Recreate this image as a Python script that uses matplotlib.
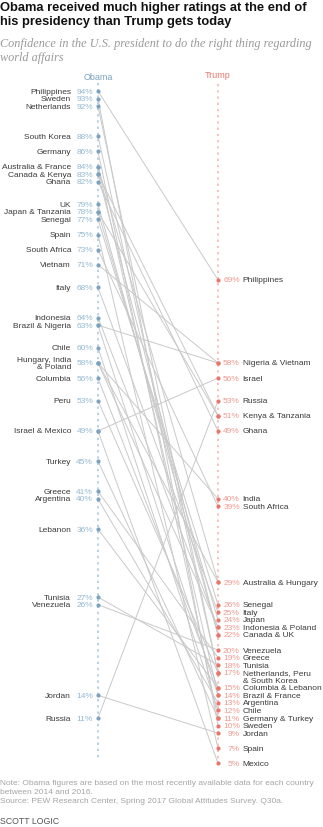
import matplotlib
matplotlib.use('Agg')
import matplotlib.pyplot as plt

countries = ["Philippines", "Sweden", "Netherlands", "South Korea", "Germany",
             "Australia", "France", "Canada", "Kenya", "Ghana", "UK", "Japan",
             "Tanzania", "Senegal", "Spain", "South Africa", "Vietnam", "Italy",
             "Indonesia", "Brazil", "Nigeria", "Chile", "Hungary", "India",
             "Poland", "Columbia", "Peru", "Israel", "Mexico", "Turkey",
             "Greece", "Argentina", "Lebanon", "Tunisia", "Venezuela",
             "Jordan", "Russia"]
obama = [94, 93, 92, 88, 86, 84, 84, 83, 83, 82, 79, 78, 78, 77, 75, 73, 71, 68,
         64, 63, 63, 60, 58, 58, 58, 56, 53, 49, 49, 45, 41, 40, 36, 27, 26, 14, 11]
trump = [69, 10, 17, 17, 11, 29, 14, 22, 51, 49, 22, 24, 51, 26, 7, 39, 58, 25,
         23, 14, 58, 12, 29, 40, 23, 15, 17, 56, 5, 11, 19, 13, 15, 18, 20, 9, 53]

title = "Obama received much higher ratings at the end of\nhis presidency than Trump gets today"
subtitle = "Confidence in the U.S. president to do the right thing regarding\nworld affairs"
note = ("Note: Obama figures are based on the most recently available data for each country\n"
        "between 2014 and 2016.\n"
        "Source: PEW Research Center, Spring 2017 Global Attitudes Survey. Q30a.")
brand = "SCOTT LOGIC"

OB_DOT = "#7ba3c0"
OB_TXT = "#93b9d3"
TR_DOT = "#e8766b"
TR_TXT = "#f09a90"
NAME = "#3a3a3a"
LINE = "#c9c9c9"
SANS = "Liberation Sans"

W, H = 323, 828
fig = plt.figure(figsize=(W / 100, H / 100), dpi=100)
fig.patch.set_facecolor("white")


def fx(x):
    return x / W


def fy(y):
    return 1 - y / H


ax = fig.add_axes([fx(98), fy(766), 120 / W, (766 - 84) / H])
ax.set_xlim(0, 1)
ax.set_ylim(4.78, 95.06)
ax.axis("off")


def groups(vals):
    d = {}
    for c, v in zip(countries, vals):
        d.setdefault(v, []).append(c)
    out = []
    for v, names in d.items():
        names = sorted(names)
        if len(names) == 1:
            s = names[0]
        elif len(names) == 2:
            s = names[0] + " & " + names[1]
        else:
            s = ", ".join(names[:-1]) + "\n& " + names[-1]
        out.append((v, s))
    return out


# axis dotted lines
ax.plot([0, 0], [95.06, 5.3], ls=(0, (1.2, 2.0)), color="#b9d2e3", lw=1.4, clip_on=False)
ax.plot([1, 1], [94.9, 4.9], ls=(0, (1.2, 2.0)), color="#f6c3bd", lw=1.4, clip_on=False)

# connecting lines
for o, t in zip(obama, trump):
    ax.plot([0, 1], [o, t], color=LINE, lw=0.7, clip_on=False, zorder=1)

ax.scatter([0] * len(obama), obama, s=9, color=OB_DOT, zorder=3, clip_on=False, lw=0)
ax.scatter([1] * len(trump), trump, s=9, color=TR_DOT, zorder=3, clip_on=False, lw=0)

FS = 6.05
for v, s in groups(obama):
    ax.annotate(f"{v}%", (0, v), xytext=(-3.6, 0), textcoords="offset points",
                ha="right", va="center", fontsize=FS, color=OB_TXT, family=SANS)
    ax.annotate(s, (0, v), xytext=(-19.4, 0), textcoords="offset points",
                ha="right", va="center", fontsize=FS, color=NAME, family=SANS,
                multialignment="right", linespacing=0.95)

for v, s in groups(trump):
    ax.annotate(f"{v}%", (1, v), xytext=(15.7, 0), textcoords="offset points",
                ha="right", va="center", fontsize=FS, color=TR_TXT, family=SANS)
    for i, line in enumerate(s.split("\n")):
        ax.annotate(line, (1, v), xytext=(17.8, -i * 5.5), textcoords="offset points",
                    ha="left", va="center", fontsize=FS, color=NAME, family=SANS)

# headers
fig.text(fx(98), fy(77), "Obama", ha="center", va="center", fontsize=6.5,
         color=OB_DOT, family=SANS)
fig.text(fx(218), fy(76), "Trump", ha="center", va="center", fontsize=6.5,
         color=TR_DOT, family=SANS)

fig.text(fx(0), fy(2), title, ha="left", va="top", fontsize=9.3, weight="bold",
         color="#111111", family=SANS, linespacing=1.2)
fig.text(fx(0), fy(38), subtitle, ha="left", va="top", fontsize=8.8, style="italic",
         color="#9a9a9a", family="Liberation Serif", linespacing=1.22)

fig.text(fx(0), fy(780), note, ha="left", va="top", fontsize=6.0, color="#a5a5a5",
         family=SANS, linespacing=1.4)
fig.text(fx(0), fy(822), brand, ha="left", va="center", fontsize=6.3, color="#555555",
         family=SANS)

fig.savefig("out.png", dpi=100, facecolor="white")
